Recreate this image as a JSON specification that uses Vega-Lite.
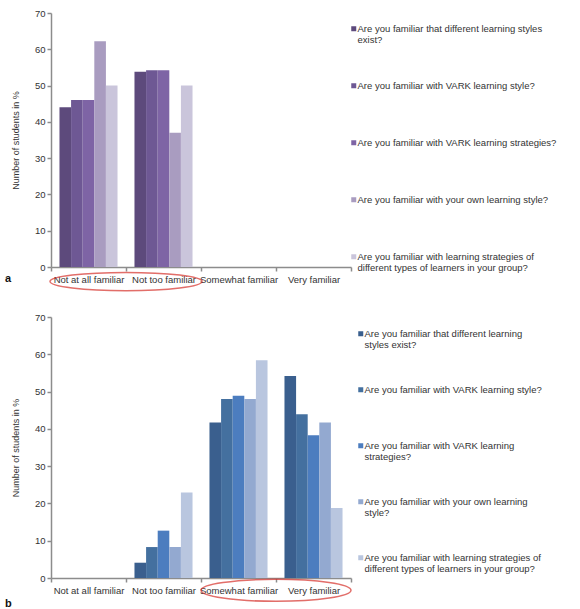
{
  "$schema": "https://vega.github.io/schema/vega-lite/v6.json",
  "padding": {"left": 5, "top": 8, "right": 5, "bottom": 2},
  "background": "white",
  "config": {
    "font": "Liberation Sans",
    "view": {"stroke": null},
    "axis": {"labelFont": "Liberation Sans", "labelFontSize": 9.5, "labelColor": "#333333", "titleFont": "Liberation Sans", "titleFontSize": 9, "titleFontWeight": "normal", "titleColor": "#333333", "domainColor": "#8c8c8c", "domainWidth": 1.5, "tickColor": "#8c8c8c", "tickWidth": 1.5, "tickSize": 4, "grid": false, "labelOverlap": false},
    "legend": {"labelFont": "Liberation Sans", "labelFontSize": 9.5, "labelColor": "#333333", "labelLimit": 0, "labelOffset": -1, "symbolType": "square", "symbolSize": 25, "symbolStrokeWidth": 0, "gridAlign": "all", "orient": "right", "title": null},
    "title": {"font": "Liberation Sans", "fontSize": 11, "fontWeight": "bold", "color": "#111111"}
  },
  "datasets": {
    "a": [
      {"cat": "Not at all familiar", "series": "Are you familiar that different learning styles exist?", "value": 44},
      {"cat": "Not at all familiar", "series": "Are you familiar with VARK learning style?", "value": 46},
      {"cat": "Not at all familiar", "series": "Are you familiar with VARK learning strategies?", "value": 46},
      {"cat": "Not at all familiar", "series": "Are you familiar with your own learning style?", "value": 62.2},
      {"cat": "Not at all familiar", "series": "Are you familiar with learning strategies of different types of learners in your group?", "value": 50},
      {"cat": "Not too familiar", "series": "Are you familiar that different learning styles exist?", "value": 53.8},
      {"cat": "Not too familiar", "series": "Are you familiar with VARK learning style?", "value": 54.2},
      {"cat": "Not too familiar", "series": "Are you familiar with VARK learning strategies?", "value": 54.2},
      {"cat": "Not too familiar", "series": "Are you familiar with your own learning style?", "value": 37},
      {"cat": "Not too familiar", "series": "Are you familiar with learning strategies of different types of learners in your group?", "value": 50}
    ],
    "b": [
      {"cat": "Not too familiar", "series": "Are you familiar that different learning styles exist?", "value": 4.1},
      {"cat": "Not too familiar", "series": "Are you familiar with VARK learning style?", "value": 8.3},
      {"cat": "Not too familiar", "series": "Are you familiar with VARK learning strategies?", "value": 12.7},
      {"cat": "Not too familiar", "series": "Are you familiar with your own learning style?", "value": 8.3},
      {"cat": "Not too familiar", "series": "Are you familiar with learning strategies of different types of learners in your group?", "value": 22.9},
      {"cat": "Somewhat familiar", "series": "Are you familiar that different learning styles exist?", "value": 41.7},
      {"cat": "Somewhat familiar", "series": "Are you familiar with VARK learning style?", "value": 48},
      {"cat": "Somewhat familiar", "series": "Are you familiar with VARK learning strategies?", "value": 48.9},
      {"cat": "Somewhat familiar", "series": "Are you familiar with your own learning style?", "value": 48},
      {"cat": "Somewhat familiar", "series": "Are you familiar with learning strategies of different types of learners in your group?", "value": 58.4},
      {"cat": "Very familiar", "series": "Are you familiar that different learning styles exist?", "value": 54.2},
      {"cat": "Very familiar", "series": "Are you familiar with VARK learning style?", "value": 43.9},
      {"cat": "Very familiar", "series": "Are you familiar with VARK learning strategies?", "value": 38.3},
      {"cat": "Very familiar", "series": "Are you familiar with your own learning style?", "value": 41.7},
      {"cat": "Very familiar", "series": "Are you familiar with learning strategies of different types of learners in your group?", "value": 18.8}
    ],
    "note": [{"note": "highlight"}]
  },
  "vconcat": [
    {
      "width": 300,
      "height": 254,
      "title": {"text": "a", "orient": "bottom", "anchor": "start", "frame": "group", "dx": -46, "offset": -21},
      "layer": [
        {
          "data": {"name": "a"},
          "mark": {"type": "bar"},
          "encoding": {
            "x": {"field": "cat", "type": "nominal", "sort": null,
              "scale": {"domain": ["Not at all familiar", "Not too familiar", "Somewhat familiar", "Very familiar"], "paddingInner": 0, "paddingOuter": 0},
              "axis": {"title": null, "labelAngle": 0, "tickBand": "extent", "labelPadding": 3}},
            "xOffset": {"field": "series", "type": "nominal",
              "scale": {"domain": ["Are you familiar that different learning styles exist?", "Are you familiar with VARK learning style?", "Are you familiar with VARK learning strategies?", "Are you familiar with your own learning style?", "Are you familiar with learning strategies of different types of learners in your group?"], "paddingInner": 0, "paddingOuter": 0.73}},
            "y": {"field": "value", "type": "quantitative",
              "scale": {"domain": [0, 70], "nice": false},
              "axis": {"title": "Number of students in %", "values": [0, 10, 20, 30, 40, 50, 60, 70], "titlePadding": 14, "labelPadding": 2}},
            "color": {"field": "series", "type": "nominal",
              "scale": {"domain": ["Are you familiar that different learning styles exist?", "Are you familiar with VARK learning style?", "Are you familiar with VARK learning strategies?", "Are you familiar with your own learning style?", "Are you familiar with learning strategies of different types of learners in your group?"], "range": ["#5d4a7c", "#6e5894", "#7e64a5", "#a99cc0", "#cac5db"]},
              "legend": {"offset": -13, "padding": 11, "rowPadding": 35, "labelExpr": "datum.label == 'Are you familiar that different learning styles exist?' ? ['Are you familiar that different learning styles', 'exist?'] : datum.label == 'Are you familiar with learning strategies of different types of learners in your group?' ? ['Are you familiar with learning strategies of', 'different types of learners in your group?'] : datum.label"}}
          }
        },
        {
          "data": {"name": "note"},
          "mark": {"type": "point", "filled": false, "stroke": "#d6312b", "strokeWidth": 1.5, "clip": false,
            "shape": "M -1 0 C -1 -0.0663 -0.5523 -0.12 0 -0.12 C 0.5523 -0.12 1 -0.0663 1 0 C 1 0.0663 0.5523 0.12 0 0.12 C -0.5523 0.12 -1 0.0663 -1 0 Z",
            "size": 23104},
          "encoding": {
            "x": {"datum": "Not at all familiar", "bandPosition": 1,
              "axis": {"title": null, "labelAngle": 0, "tickBand": "extent", "labelPadding": 3}},
            "y": {"datum": -4.0,
              "axis": {"title": "Number of students in %", "values": [0, 10, 20, 30, 40, 50, 60, 70], "titlePadding": 14, "labelPadding": 2}}
          }
        }
      ]
    },
    {
      "width": 300,
      "height": 261,
      "title": {"text": "b", "orient": "bottom", "anchor": "start", "frame": "group", "dx": -46, "offset": -6},
      "layer": [
        {
          "data": {"name": "b"},
          "mark": {"type": "bar"},
          "encoding": {
            "x": {"field": "cat", "type": "nominal", "sort": null,
              "scale": {"domain": ["Not at all familiar", "Not too familiar", "Somewhat familiar", "Very familiar"], "paddingInner": 0, "paddingOuter": 0},
              "axis": {"title": null, "labelAngle": 0, "tickBand": "extent", "labelPadding": 3}},
            "xOffset": {"field": "series", "type": "nominal",
              "scale": {"domain": ["Are you familiar that different learning styles exist?", "Are you familiar with VARK learning style?", "Are you familiar with VARK learning strategies?", "Are you familiar with your own learning style?", "Are you familiar with learning strategies of different types of learners in your group?"], "paddingInner": 0, "paddingOuter": 0.73}},
            "y": {"field": "value", "type": "quantitative",
              "scale": {"domain": [0, 70], "nice": false},
              "axis": {"title": "Number of students in %", "values": [0, 10, 20, 30, 40, 50, 60, 70], "titlePadding": 14, "labelPadding": 2}},
            "color": {"field": "series", "type": "nominal",
              "scale": {"domain": ["Are you familiar that different learning styles exist?", "Are you familiar with VARK learning style?", "Are you familiar with VARK learning strategies?", "Are you familiar with your own learning style?", "Are you familiar with learning strategies of different types of learners in your group?"], "range": ["#3a5f8e", "#44709f", "#4c7dbf", "#93a9d0", "#b9c6df"]},
              "legend": {"offset": -7, "padding": 12, "rowPadding": 34, "labelExpr": "datum.label == 'Are you familiar that different learning styles exist?' ? ['Are you familiar that different learning', 'styles exist?'] : datum.label == 'Are you familiar with VARK learning strategies?' ? ['Are you familiar with VARK learning', 'strategies?'] : datum.label == 'Are you familiar with your own learning style?' ? ['Are you familiar with your own learning', 'style?'] : datum.label == 'Are you familiar with learning strategies of different types of learners in your group?' ? ['Are you familiar with learning strategies of', 'different types of learners in your group?'] : datum.label"}}
          }
        },
        {
          "data": {"name": "note"},
          "mark": {"type": "point", "filled": false, "stroke": "#d6312b", "strokeWidth": 1.5, "clip": false,
            "shape": "M -1 0 C -1 -0.081 -0.5523 -0.147 0 -0.147 C 0.5523 -0.147 1 -0.081 1 0 C 1 0.081 0.5523 0.147 0 0.147 C -0.5523 0.147 -1 0.081 -1 0 Z",
            "size": 22500},
          "encoding": {
            "x": {"datum": "Somewhat familiar", "bandPosition": 1,
              "axis": {"title": null, "labelAngle": 0, "tickBand": "extent", "labelPadding": 3}},
            "y": {"datum": -3.3,
              "axis": {"title": "Number of students in %", "values": [0, 10, 20, 30, 40, 50, 60, 70], "titlePadding": 14, "labelPadding": 2}}
          }
        }
      ]
    }
  ],
  "spacing": 18,
  "resolve": {"scale": {"color": "independent", "x": "independent", "y": "independent", "xOffset": "independent"}, "legend": {"color": "independent"}}
}
